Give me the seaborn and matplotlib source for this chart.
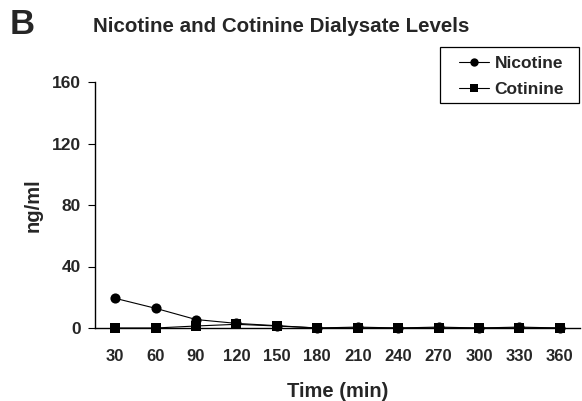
import matplotlib
matplotlib.use("Agg")
import matplotlib.pyplot as plt
from matplotlib.patches import Rectangle
import seaborn as sns
import pandas as pd
import numpy as np

times = ["30", "60", "90", "120", "150", "180", "210", "240", "270", "300", "330", "360"]
nicotine = [19.3, 12.8, 5.5, 3.0, 1.5, 0.0, 0.6, 0.0, 0.6, 0.0, 0.6, 0.0]
cotinine = [0.0, 0.0, 1.3, 2.4, 1.3, 0.0, 0.0, 0.0, 0.0, 0.0, 0.0, 0.0]
series_names = ["Nicotine", "Cotinine"]
yticks = [0, 40, 80, 120, 160]

sns.set_theme(style="white")
plt.rcParams["font.family"] = ["Liberation Sans", "DejaVu Sans"]
plt.rcParams["font.weight"] = "bold"

pos = np.arange(len(times))
df = pd.DataFrame({
    "pos": np.concatenate([pos, pos]),
    "value": nicotine + cotinine,
    "series": [series_names[0]] * len(times) + [series_names[1]] * len(times),
})

fig = plt.figure(figsize=(5.82, 4.01), dpi=100)
ax = fig.add_axes([95 / 582, 1 - 328 / 401, 485 / 582, (328 - 82) / 401])

sns.lineplot(data=df, x="pos", y="value", hue="series", style="series",
             markers=["o", "s"], dashes=False, palette=["black", "black"],
             markersize=7.3, linewidth=0.8, markeredgewidth=0, clip_on=False,
             ax=ax, legend=True)

ax.set_xlim(-0.5, len(times) - 0.5)
ax.set_ylim(0, 160)
ax.set_yticks(yticks)
ax.set_yticklabels([str(v) for v in yticks], fontsize=12.5, fontweight="bold")
ax.set_xticks(pos)
ax.set_xticklabels(times, fontsize=12, fontweight="bold")
ax.set_xticks(np.arange(-0.5, len(times)), minor=True)
ax.tick_params(axis="x", which="major", length=0, pad=15)
ax.tick_params(axis="x", which="minor", length=5, width=0.8, direction="out", color="black")
ax.tick_params(axis="y", which="major", length=5, width=0.8, direction="out", color="black", pad=5, left=True)
for s in ["top", "right"]:
    ax.spines[s].set_visible(False)
for s in ["left", "bottom"]:
    ax.spines[s].set_color("black")
    ax.spines[s].set_linewidth(1.0)

ax.set_xlabel("Time (min)", fontsize=14.5, fontweight="bold", labelpad=13)
ax.set_ylabel("ng/ml", fontsize=14.5, fontweight="bold", labelpad=7)

handles, labels = ax.get_legend_handles_labels()
for h in handles:
    h.set_markersize(6)
leg = ax.legend(handles, labels, loc="upper left", bbox_to_anchor=(459 / 582, 1 - 56 / 401),
                bbox_transform=fig.transFigure, frameon=False,
                handlelength=1.7, handletextpad=0.35,
                borderpad=0, borderaxespad=0, labelspacing=0.61,
                prop={"weight": "bold", "size": 12.5})
fig.patches.append(Rectangle((440 / 582, 1 - 103 / 401), 139 / 582, 56 / 401,
                             transform=fig.transFigure, fill=False,
                             edgecolor="black", linewidth=0.9))

fig.text(281 / 582, 1 - 26 / 401, "Nicotine and Cotinine Dialysate Levels", ha="center", va="center",
         fontsize=14.8, fontweight="bold")
fig.text(10 / 582, 1 - 24 / 401, "B", ha="left", va="center", fontsize=25, fontweight="bold")

fig.savefig("out.png", dpi=100)
